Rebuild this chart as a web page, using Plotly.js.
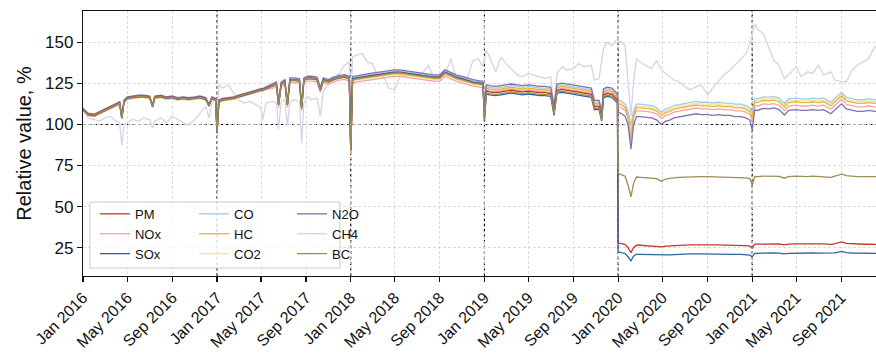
<!DOCTYPE html>
<html><head><meta charset="utf-8">
<script src="https://cdn.plot.ly/plotly-3.0.1.min.js"></script>
<style>html,body{margin:0;padding:0;background:#fff;overflow:hidden}#chart{width:876px;height:353px}</style>
</head><body><div id="chart"></div>
<script>
// ---------------- data ----------------
const dates = [
 "2016-01-01","2016-01-15","2016-02-01","2016-02-15","2016-03-01","2016-03-15","2016-04-01","2016-04-10","2016-04-16","2016-04-22",
 "2016-05-01","2016-05-15","2016-06-01","2016-06-15","2016-07-01","2016-07-09","2016-07-15","2016-08-01","2016-08-15","2016-09-01",
 "2016-09-15","2016-10-01","2016-10-15","2016-11-01","2016-11-15","2016-12-01","2016-12-10","2016-12-18","2016-12-28",
 "2017-01-01","2017-01-06","2017-01-15","2017-02-01","2017-02-15","2017-03-01","2017-03-15","2017-04-01","2017-04-15","2017-05-01",
 "2017-05-05","2017-05-15","2017-06-01","2017-06-12","2017-06-18","2017-06-25","2017-07-05","2017-07-12","2017-07-19","2017-08-01",
 "2017-08-14","2017-08-20","2017-08-26","2017-09-05","2017-09-15","2017-10-01","2017-10-10","2017-10-18","2017-11-01","2017-11-15",
 "2017-12-01","2017-12-15","2017-12-28",
 "2018-01-01","2018-01-06","2018-01-15","2018-02-01","2018-02-15","2018-03-01","2018-03-15","2018-04-01","2018-04-15","2018-05-01",
 "2018-05-15","2018-06-01","2018-06-15","2018-07-01","2018-07-15","2018-08-01","2018-08-15","2018-09-01","2018-09-15","2018-10-01",
 "2018-10-15","2018-11-01","2018-11-15","2018-12-01","2018-12-15","2018-12-28",
 "2019-01-01","2019-01-06","2019-01-15","2019-02-01","2019-02-15","2019-03-01","2019-03-15","2019-04-01","2019-04-15","2019-05-01",
 "2019-05-15","2019-06-01","2019-06-15","2019-07-01","2019-07-10","2019-07-18","2019-08-01","2019-08-15","2019-09-01","2019-09-15",
 "2019-10-01","2019-10-20","2019-10-28","2019-11-10","2019-11-17","2019-11-22","2019-12-01","2019-12-15","2019-12-30",
 "2020-01-01","2020-01-10","2020-01-20","2020-01-28","2020-02-05","2020-02-12","2020-02-20","2020-03-01","2020-03-15","2020-04-01",
 "2020-04-15","2020-04-28","2020-05-10","2020-05-20","2020-06-01","2020-06-15","2020-07-01","2020-07-15","2020-08-01","2020-08-15",
 "2020-09-01","2020-09-15","2020-10-01","2020-10-15","2020-11-01","2020-11-15","2020-12-01","2020-12-15","2020-12-26",
 "2021-01-01","2021-01-08","2021-01-15","2021-02-01","2021-02-15","2021-03-01","2021-03-15","2021-03-30","2021-04-10","2021-05-01",
 "2021-05-15","2021-06-01","2021-06-15","2021-07-01","2021-07-15","2021-08-04","2021-08-15","2021-09-02","2021-09-15","2021-10-01",
 "2021-10-15","2021-11-01","2021-11-15","2021-12-01","2021-12-05"
];

const PM = [
 109.3,106.3,105.8,107.3,109.3,110.8,112.3,113.3,104.3,114.3,116.3,116.8,117.3,117.3,116.8,111.3,116.8,117.3,116.3,116.8,115.8,116.3,115.8,116.3,116.8,115.8,111.8,116.3,115.3,
 95.3,114.3,115.3,115.8,116.3,117.3,118.3,119.3,120.3,121.3,121.3,122.3,123.8,124.8,112.3,124.8,126.3,112.3,127.3,127.3,126.8,110.3,127.3,128.3,128.3,127.8,121.3,127.3,126.3,127.8,128.8,129.3,128.3,
 84.3,127.8,128.3,128.8,129.3,129.8,130.3,130.8,131.3,131.8,131.8,131.3,130.8,130.3,129.8,129.3,128.8,128.8,131.8,130.3,128.8,127.8,126.8,125.8,125.3,124.8,
 103.8,120.3,119.8,119.3,119.8,120.3,120.8,120.3,119.8,120.3,119.8,119.3,119.3,118.8,107.3,120.8,121.3,120.8,119.8,119.3,118.8,118.3,110.8,110.8,103.8,117.8,118.8,118.3,114.8,
 28,27.5,27,25,22,25,26.5,26.5,26.3,26.2,26,25.5,26,26.2,26.4,26.5,26.6,26.7,26.8,26.7,26.7,26.6,26.7,26.6,26.6,26.5,26.5,26.3,26,
 24.8,27.2,27.2,27.5,27.4,27.5,27.3,26.8,27.2,27.4,27.3,27.3,27.4,27.3,27.4,27,27.5,28.6,27.6,27.3,27.2,27.1,27.2,27.1,27
];
const NOx = [
 108.4,105.4,104.9,106.4,108.4,109.9,111.4,112.4,103.4,113.4,115.4,115.9,116.4,116.4,115.9,110.4,115.9,116.4,115.4,115.9,114.9,115.4,114.9,115.4,115.9,114.9,110.9,115.4,114.4,
 94.4,113.4,114.4,114.9,115.4,116.4,117.4,118.4,119.4,120.4,120.4,121.4,121.9,122.9,110.4,122.9,124.4,110.4,125.4,125.4,124.9,108.4,125.4,126.4,126.4,125.9,119.4,125.4,124.4,125.9,126.9,127.4,126.4,
 81.8,125.3,125.8,126.3,126.8,127.3,127.8,128.3,128.8,129.3,129.3,128.8,128.3,127.8,127.3,126.8,126.3,126.3,129.3,127.8,126.3,125.3,124.3,123.3,122.8,122.3,
 104.4,120.9,120.4,119.9,120.4,120.9,121.4,120.9,120.4,120.9,120.4,119.9,119.9,119.4,107.9,121.4,121.9,121.4,120.4,119.9,119.4,118.9,111.4,111.4,104.4,118.4,119.4,118.9,115.4,
 111,110,108.5,104,90,104,108.3,108.3,107.9,107.5,106.3,103.5,105.5,106,107.5,108,109,109.5,110,109.5,109.5,109,109.5,109,109,108.3,108.3,107.5,106,
 101.5,111.5,111.2,112.5,112.2,112.7,111.7,108.4,111.2,111.7,111.2,111.2,111.7,111.2,111.7,109.2,111.7,115.2,112.2,111.2,110.7,110.7,111.2,110.7,110.7
];
const SOx = [
 108.8,105.8,105.3,106.8,108.8,110.3,111.8,112.8,103.8,113.8,115.8,116.3,116.8,116.8,116.3,110.8,116.3,116.8,115.8,116.3,115.3,115.8,115.3,115.8,116.3,115.3,111.3,115.8,114.8,
 94.8,113.8,114.8,115.3,115.8,116.8,117.8,118.8,119.8,120.8,120.8,121.8,123.3,124.3,111.8,124.3,125.8,111.8,126.8,126.8,126.3,109.8,126.8,127.8,127.8,127.3,120.8,126.8,125.8,127.3,128.3,128.8,127.8,
 84.2,127.7,128.2,128.7,129.2,129.7,130.2,130.7,131.2,131.7,131.7,131.2,130.7,130.2,129.7,129.2,128.7,128.7,131.7,130.2,128.7,127.7,126.7,125.7,125.2,124.7,
 102,118.5,118,117.5,118,118.5,119,118.5,118,118.5,118,117.5,117.5,117,105.5,119,119.5,119,118,117.5,117,116.5,109,109,102,116,117,116.5,113,
 22.5,22,21.5,19.5,17,19.8,21,21,20.9,20.8,20.7,20.3,20.6,20.7,20.9,21,21.1,21.2,21.3,21.2,21.2,21.1,21.2,21.1,21.1,21,21,20.8,20.5,
 19.5,21.6,21.6,21.8,21.8,21.9,21.7,21.3,21.6,21.8,21.7,21.7,21.8,21.7,21.8,21.5,21.9,22.8,22,21.8,21.7,21.6,21.7,21.6,21.6
];
const CO = [
 109.5,106.5,106,107.5,109.5,111,112.5,113.5,104.5,114.5,116.5,117,117.5,117.5,117,111.5,117,117.5,116.5,117,116,116.5,116,116.5,117,116,112,116.5,115.5,
 95.5,114.5,115.5,116,116.5,117.5,118.5,119.5,120.5,121.5,121.5,122.5,124,125,112.5,125,126.5,112.5,127.5,127.5,127,110.5,127.5,128.5,128.5,128,121.5,127.5,126.5,128,129,129.5,128.5,
 85,128.5,129,129.5,130,130.5,131,131.5,132,132.5,132.5,132,131.5,131,130.5,130,129.5,129.5,132.5,131,129.5,128.5,127.5,126.5,126,125.5,
 106.6,123.1,122.6,122.1,122.6,123.1,123.6,123.1,122.6,123.1,122.6,122.1,122.1,121.6,110.1,123.6,124.1,123.6,122.6,122.1,121.6,121.1,113.6,113.6,106.6,120.6,121.6,121.1,117.6,
 115,114,112.5,108,99.5,108,112.3,112.3,111.9,111.5,110.3,107.5,109.5,110,111.5,112,113,113.5,114,113.5,113.5,113,113.5,113,113,112.3,112.3,111.5,110,
 107.5,115.8,115.5,116.8,116.5,117,116,112.7,115.5,116,115.5,115.5,116,115.5,116,113.5,116,119.5,116.5,115.5,115,115,115.5,115,115
];
const HC = [
 108.7,105.7,105.2,106.7,108.7,110.2,111.7,112.7,103.7,113.7,115.7,116.2,116.7,116.7,116.2,110.7,116.2,116.7,115.7,116.2,115.2,115.7,115.2,115.7,116.2,115.2,111.2,115.7,114.7,
 94.7,113.7,114.7,115.2,115.7,116.7,117.7,118.7,119.7,120.7,120.7,121.7,123.2,124.2,111.7,124.2,125.7,111.7,126.7,126.7,126.2,109.7,126.7,127.7,127.7,127.2,120.7,126.7,125.7,127.2,128.2,128.7,127.7,
 83.4,126.9,127.4,127.9,128.4,128.9,129.4,129.9,130.4,130.9,130.9,130.4,129.9,129.4,128.9,128.4,127.9,127.9,130.9,129.4,127.9,126.9,125.9,124.9,124.4,123.9,
 105.6,122.1,121.6,121.1,121.6,122.1,122.6,122.1,121.6,122.1,121.6,121.1,121.1,120.6,109.1,122.6,123.1,122.6,121.6,121.1,120.6,120.1,112.6,112.6,105.6,119.6,120.6,120.1,116.6,
 112.8,111.8,110.3,105.5,92,105.5,110.1,110.1,109.7,109.3,108.1,105.3,107.3,107.8,109.3,109.8,110.8,111.3,111.8,111.3,111.3,110.8,111.3,110.8,110.8,110.1,110.1,109.3,107.8,
 104,113.6,113.3,114.6,114.3,114.8,113.8,110.5,113.3,113.8,113.3,113.3,113.8,113.3,113.8,111.3,113.8,117.3,114.3,113.3,112.8,112.8,113.3,112.8,112.8
];
const CO2 = [
 108.3,105.3,104.8,106.3,108.3,109.8,111.3,112.3,103.3,113.3,115.3,115.8,116.3,116.3,115.8,110.3,115.8,116.3,115.3,115.8,114.8,115.3,114.8,115.3,115.8,114.8,110.8,115.3,114.3,
 94.3,113.3,114.3,114.8,115.3,116.3,117.3,118.3,119.3,120.3,120.3,121.3,122.8,123.8,111.3,123.8,125.3,111.3,126.3,126.3,125.8,109.3,126.3,127.3,127.3,126.8,120.3,126.3,125.3,126.8,127.8,128.3,127.3,
 82.9,126.4,126.9,127.4,127.9,128.4,128.9,129.4,129.9,130.4,130.4,129.9,129.4,128.9,128.4,127.9,127.4,127.4,130.4,128.9,127.4,126.4,125.4,124.4,123.9,123.4,
 105.2,121.7,121.2,120.7,121.2,121.7,122.2,121.7,121.2,121.7,121.2,120.7,120.7,120.2,108.7,122.2,122.7,122.2,121.2,120.7,120.2,119.7,112.2,112.2,105.2,119.2,120.2,119.7,116.2,
 113.8,112.8,111.3,106.5,97,106.8,111.1,111.1,110.7,110.3,109.1,106.3,108.3,108.8,110.3,110.8,111.8,112.3,112.8,112.3,112.3,111.8,112.3,111.8,111.8,111.1,111.1,110.3,108.8,
 106,114.6,114.3,115.6,115.3,115.8,114.8,111.5,114.3,114.8,114.3,114.3,114.8,114.3,114.8,112.3,114.8,118.3,115.3,114.3,113.8,113.8,114.3,113.8,113.8
];
const N2O = [
 109.8,106.8,106.3,107.8,109.8,111.3,112.8,113.8,104.8,114.8,116.8,117.3,117.8,117.8,117.3,111.8,117.3,117.8,116.8,117.3,116.3,116.8,116.3,116.8,117.3,116.3,112.3,116.8,115.8,
 95.8,114.8,115.8,116.3,116.8,117.8,118.8,119.8,120.8,121.8,121.8,122.8,124.8,125.8,113.3,125.8,127.3,113.3,128.3,128.3,127.8,111.3,128.3,129.3,129.3,128.8,122.3,128.3,127.3,128.8,129.8,130.3,129.3,
 85.7,129.2,129.7,130.2,130.7,131.2,131.7,132.2,132.7,133.2,133.2,132.7,132.2,131.7,131.2,130.7,130.2,130.2,133.2,131.7,130.2,129.2,128.2,127.2,126.7,126.2,
 107.6,124.1,123.6,123.1,123.6,124.1,124.6,124.1,123.6,124.1,123.6,123.1,123.1,122.6,111.1,124.6,125.1,124.6,123.6,123.1,122.6,122.1,114.6,114.6,107.6,121.6,122.6,122.1,118.6,
 107.5,106.5,105,100,85,99.5,104.8,104.8,104.4,104,102.8,100,102,102.5,104,104.5,105.5,106,106.5,106,106,105.5,106,105.5,105.5,104.8,104.8,104,102.5,
 96.5,108.8,108.5,109.8,109.5,110,109,105.7,108.5,109,108.5,108.5,109,108.5,109,106.5,109,112.5,109.5,108.5,108,108,108.5,108,108
];
const CH4 = [
 109,104,103,102,104,105,102,101,87,100,101,103,102,104,103,98,102,104,101,105,103,101,99.5,103,107,111,104,113,116,
 96,124,122,124,119,115,113,114,112,110,102.5,113,114,113,97,114,115,99,114,115,114,88.5,113,117,115,116,105,120,125,128,131,136,138,
 110,141,142,143,138,137,130,129,122,121,129,130,131,130,131,136,129,129,130,140,129,128,128,139,140,135,
 140,145,141,132,141,137,134,130,129,131,130,129,128,129,110,131,135,133,134,137,135,136,127,128,138,146,150,148,152,
 151,150,148,126,105,126,140,138,136,134,139,133,131,129,127,126,123,121,123,124,118,122,126,130,133,136,140,143,149,
 154,161,158,155,147,139,136,128,130,135,129,132,131,136,130,132,127,126,126,133,136,138,140,147,147
];
const BC = [
 109,106,105.5,107,109,110.5,112,113,104,114,116,116.5,117,117,116.5,111,116.5,117,116,116.5,115.5,116,115.5,116,116.5,115.5,111.5,116,115,
 95,114,115,115.5,116,117,118,119,120,121,121,122,123.5,124.5,112,124.5,126,112,127,127,126.5,110,127,128,128,127.5,121,127,126,127.5,128.5,129,128,
 83.8,127.3,127.8,128.3,128.8,129.3,129.8,130.3,130.8,131.3,131.3,130.8,130.3,129.8,129.3,128.8,128.3,128.3,131.3,129.8,128.3,127.3,126.3,125.3,124.8,124.3,
 102.8,119.3,118.8,118.3,118.8,119.3,119.8,119.3,118.8,119.3,118.8,118.3,118.3,117.8,106.3,119.8,120.3,119.8,118.8,118.3,117.8,117.3,109.8,109.8,102.8,116.8,117.8,117.3,113.8,
 70,69.5,68.5,63,56,64,68,67.8,67.5,67.3,67,65.5,66.8,67.2,67.6,67.8,68,68.2,68.4,68.3,68.3,68.2,68.3,68.2,68.1,68,67.8,67.5,67,
 63,68.3,68.2,68.6,68.5,68.7,68.4,67.3,68.2,68.5,68.3,68.3,68.5,68.3,68.5,67.8,68.6,69.8,68.8,68.4,68.2,68.2,68.4,68.2,68.2
];

const xTickDates = ["2016-01-01","2016-05-01","2016-09-01","2017-01-01","2017-05-01","2017-09-01","2018-01-01","2018-05-01","2018-09-01",
 "2019-01-01","2019-05-01","2019-09-01","2020-01-01","2020-05-01","2020-09-01","2021-01-01","2021-05-01","2021-09-01"];
const xTickLabels = ["Jan 2016","May 2016","Sep 2016","Jan 2017","May 2017","Sep 2017","Jan 2018","May 2018","Sep 2018",
 "Jan 2019","May 2019","Sep 2019","Jan 2020","May 2020","Sep 2020","Jan 2021","May 2021","Sep 2021"];
const yTicks = [25,50,75,100,125,150];
const yearMarks = ["2017-01-01","2018-01-01","2019-01-01","2020-01-01","2021-01-01"];
const baseline = 100;

// ---------------- styling ----------------
const seriesData = {PM, NOx, SOx, CO, HC, CO2, N2O, CH4, BC};
Object.keys(seriesData).forEach(k => { if (seriesData[k].length !== dates.length) console.error(k, seriesData[k].length, dates.length); });

const style = {
  PM:  {color:'#c8372d', legend:'legend',  rank:1},
  NOx: {color:'#f2a5a2', legend:'legend',  rank:2},
  SOx: {color:'#30639a', legend:'legend',  rank:3},
  CO:  {color:'#9fcbe6', legend:'legend2', rank:4},
  HC:  {color:'#e9b53b', legend:'legend2', rank:5},
  CO2: {color:'#f6e3a0', legend:'legend2', rank:6},
  N2O: {color:'#7d71b5', legend:'legend3', rank:7},
  CH4: {color:'#d5d2ea', legend:'legend3', rank:8},
  BC:  {color:'#9b8e56', legend:'legend3', rank:9}
};
const drawOrder = ['CH4','CO2','CO','NOx','HC','N2O','PM','SOx','BC'];

const traces = drawOrder.map(name => ({
  type:'scatter', mode:'lines', name:name,
  x:dates, y:seriesData[name],
  line:{color:style[name].color, width:1.3},
  legend:style[name].legend, legendrank:style[name].rank,
  hoverinfo:'skip'
}));

const FONT = '"Liberation Sans", Arial, Helvetica, sans-serif';
const shapes = [];
yearMarks.forEach(d => shapes.push({type:'line', xref:'x', yref:'paper', x0:d, x1:d, y0:0, y1:1,
  line:{color:'#000', width:1.1, dash:'3px,2.5px'}, layer:'below'}));
shapes.push({type:'line', xref:'paper', yref:'y', x0:0, x1:1, y0:baseline, y1:baseline,
  line:{color:'#000', width:1.1, dash:'3px,2.5px'}, layer:'below'});
shapes.push({type:'rect', xref:'paper', yref:'paper', x0:0.0088, x1:0.324, y0:0.03, y1:0.279,
  fillcolor:'rgba(255,255,255,0.8)', line:{color:'#cccccc', width:1}, layer:'above'});

const legendBase = {y:0.291, xanchor:'left', yanchor:'top', bgcolor:'rgba(0,0,0,0)', borderwidth:0,
  font:{family:FONT, size:13, color:'#111'}, orientation:'v', traceorder:'normal'};

const layout = {
  width:876, height:353,
  margin:{l:83, r:0, t:11, b:77},
  paper_bgcolor:'#ffffff', plot_bgcolor:'#ffffff',
  font:{family:FONT, color:'#111', size:16.5},
  showlegend:true,
  xaxis:{type:'date', range:['2016-01-01','2021-12-05'], tickmode:'array', tickvals:xTickDates, ticktext:xTickLabels,
    tickangle:-45, ticks:'outside', ticklen:5, tickwidth:1.2, tickcolor:'#111',
    showline:true, mirror:true, linecolor:'#111', linewidth:1.2,
    showgrid:true, gridcolor:'#d3d3d3', griddash:'3px,2px', gridwidth:0.8, zeroline:false,
    tickfont:{family:FONT, size:16, color:'#111'}, automargin:false},
  yaxis:{range:[7.8,169], tickmode:'array', tickvals:yTicks, ticks:'outside', ticklen:5, tickwidth:1.2, tickcolor:'#111',
    showline:true, mirror:false, linecolor:'#111', linewidth:1.2,
    showgrid:true, gridcolor:'#d3d3d3', griddash:'3px,2px', gridwidth:0.8, zeroline:false,
    tickfont:{family:FONT, size:17, color:'#111'}, automargin:false,
    title:{text:'Relative value, %', font:{family:FONT, size:20, color:'#111'}, standoff:8}},
  legend: Object.assign({}, legendBase, {x:0.0151}),
  legend2: Object.assign({}, legendBase, {x:0.140}),
  legend3: Object.assign({}, legendBase, {x:0.2636}),
  shapes:shapes
};

Plotly.newPlot('chart', traces, layout, {staticPlot:true, displayModeBar:false});
</script>
</body></html>
